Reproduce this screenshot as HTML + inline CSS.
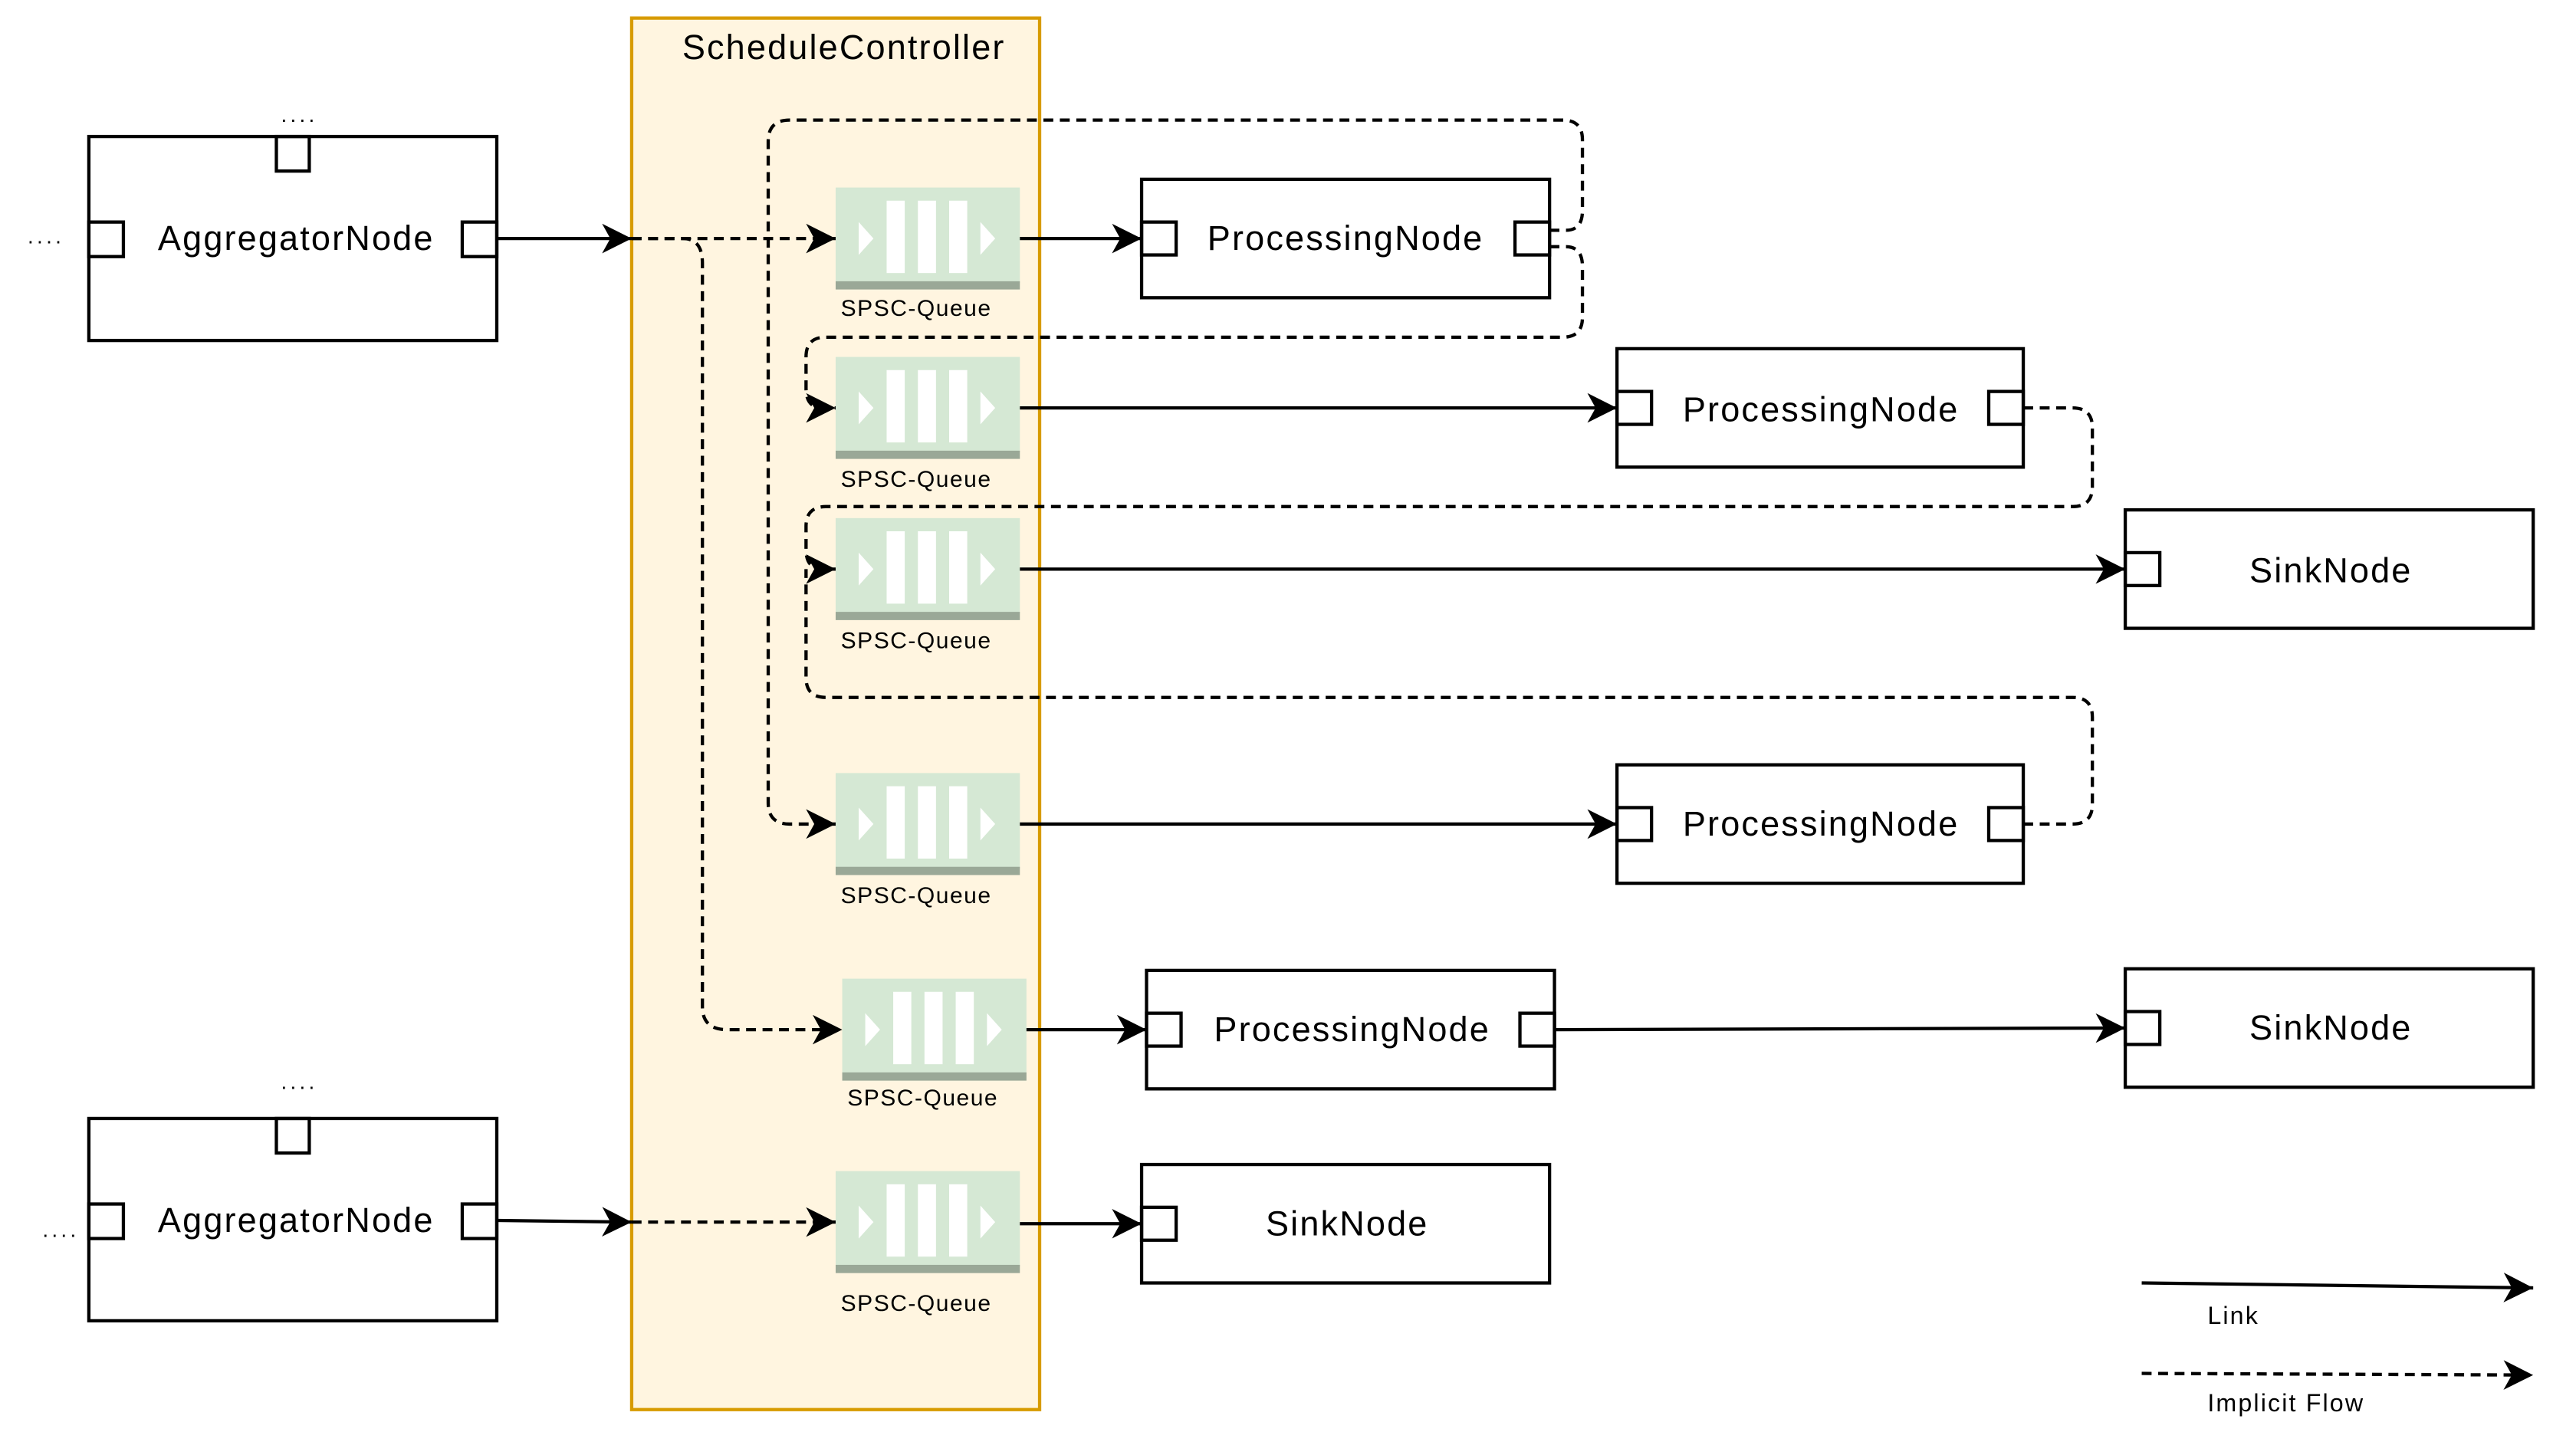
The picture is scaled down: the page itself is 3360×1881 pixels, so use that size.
<!DOCTYPE html>
<html><head><meta charset="utf-8"><style>
html,body{margin:0;padding:0;background:#fff;}
svg{display:block;}
text{font-family:"Liberation Sans",sans-serif;fill:#000;}
</style></head><body>
<svg width="3360" height="1881" viewBox="0 0 1566 876.7" xmlns="http://www.w3.org/2000/svg">
<defs>
<marker id="a" markerUnits="userSpaceOnUse" markerWidth="20" markerHeight="20" viewBox="0 0 20 20" refX="18" refY="10" orient="auto">
<path d="M0,1 L18,10 L0,19 L5,10 z" fill="#000"/>
</marker>
<g id="qb">
<rect x="508" y="114" width="112" height="58" fill="#d5e8d4"/>
<rect x="508" y="171" width="112" height="5" fill="#9aa897"/>
<rect x="539" y="122" width="11" height="44" fill="#fff"/>
<rect x="558" y="122" width="11" height="44" fill="#fff"/>
<rect x="577" y="122" width="11" height="44" fill="#fff"/>
<path d="M522,135 L531,145 L522,155 z M596,135 L605,145 L596,155 z" fill="#fff"/>
</g>
</defs>
<rect x="384" y="11" width="248" height="846" fill="#fff5e0" stroke="#d79b00" stroke-width="2"/>
<text x="513" y="36" font-size="21" letter-spacing="1" text-anchor="middle">ScheduleController</text>

<g fill="none" stroke="#000" stroke-width="2">
<rect x="54" y="83" width="248" height="124"/>
<rect x="168" y="83" width="20" height="21"/>
<rect x="54" y="135" width="21" height="21"/>
<rect x="281" y="135" width="21" height="21"/>
<rect x="54" y="680" width="248" height="123"/>
<rect x="168" y="680" width="20" height="21"/>
<rect x="54" y="732" width="21" height="21"/>
<rect x="281" y="732" width="21" height="21"/>

<rect x="694" y="109" width="248" height="72"/>
<rect x="694" y="135" width="21" height="20"/><rect x="921" y="135" width="21" height="20"/>
<rect x="983" y="212" width="247" height="72"/>
<rect x="983" y="238" width="21" height="20"/><rect x="1209" y="238" width="21" height="20"/>
<rect x="1292" y="310" width="248" height="72"/>
<rect x="1292" y="336" width="21" height="20"/>
<rect x="983" y="465" width="247" height="72"/>
<rect x="983" y="491" width="21" height="20"/><rect x="1209" y="491" width="21" height="20"/>
<rect x="697" y="590" width="248" height="72"/>
<rect x="697" y="616" width="21" height="20"/><rect x="924" y="616" width="21" height="20"/>
<rect x="1292" y="589" width="248" height="72"/>
<rect x="1292" y="615" width="21" height="20"/>
<rect x="694" y="708" width="248" height="72"/>
<rect x="694" y="734" width="21" height="20"/>
</g>

<g font-size="21" letter-spacing="1" text-anchor="middle">
<text x="180" y="152">AggregatorNode</text>
<text x="180" y="749">AggregatorNode</text>
<text x="818" y="152">ProcessingNode</text>
<text x="1107" y="256">ProcessingNode</text>
<text x="1417" y="354">SinkNode</text>
<text x="1107" y="508">ProcessingNode</text>
<text x="822" y="633">ProcessingNode</text>
<text x="1417" y="632">SinkNode</text>
<text x="819" y="751">SinkNode</text>
</g>
<g font-size="13" letter-spacing="2" text-anchor="middle">
<text x="182" y="74">....</text><text x="28" y="148">....</text>
<text x="182" y="662">....</text><text x="37" y="752">....</text>
</g>

<use href="#qb"/>
<use href="#qb" transform="translate(0,103)"/>
<use href="#qb" transform="translate(0,201)"/>
<use href="#qb" transform="translate(0,356)"/>
<use href="#qb" transform="translate(4,481)"/>
<use href="#qb" transform="translate(0,598)"/>
<g font-size="14" letter-spacing="0.7" text-anchor="middle">
<text x="557" y="192">SPSC-Queue</text>
<text x="557" y="296">SPSC-Queue</text>
<text x="557" y="394">SPSC-Queue</text>
<text x="557" y="549">SPSC-Queue</text>
<text x="561" y="672">SPSC-Queue</text>
<text x="557" y="797">SPSC-Queue</text>
</g>

<g fill="none" stroke="#000" stroke-width="2" marker-end="url(#a)">
<path d="M302,145 L384,145"/>
<path d="M620,145 L694,145"/>
<path d="M620,248 L983,248"/>
<path d="M620,346 L1292,346"/>
<path d="M620,501 L983,501"/>
<path d="M624,626 L697,626"/>
<path d="M945,626 L1292,625"/>
<path d="M302,742 L384,743"/>
<path d="M620,744 L694,744"/>
<path d="M1302,780 L1540,783"/>
</g>
<g fill="none" stroke="#000" stroke-width="2" stroke-dasharray="6,4">
<path d="M384,145 L508,145" marker-end="url(#a)"/>
<path d="M384,145 L415,145 Q427,145 427,160 L427,612 Q427,626 442,626 L512,626" marker-end="url(#a)"/>
<path d="M942,140 L952,140 Q962,140 962,128 L962,85 Q962,73 950,73 L480,73 Q467,73 467,86 L467,488 Q467,501 480,501 L508,501" marker-end="url(#a)"/>
<path d="M942,150 L952,150 Q962,150 962,162 L962,193 Q962,205 950,205 L502,205 Q490,205 490,217 L490,236 Q490,248 500,248 L508,248" marker-end="url(#a)"/>
<path d="M1230,248 L1260,248 Q1272,248 1272,260 L1272,296 Q1272,308 1260,308 L502,308 Q490,308 490,320 L490,334 Q490,346 500,346 L508,346" marker-end="url(#a)"/>
<path d="M1230,501 L1260,501 Q1272,501 1272,489 L1272,436 Q1272,424 1260,424 L502,424 Q490,424 490,412 L490,346"/>
<path d="M384,743 L508,743" marker-end="url(#a)"/>
<path d="M1302,835 L1540,836" marker-end="url(#a)"/>
</g>
<text x="1342" y="805" font-size="15" letter-spacing="1">Link</text>
<text x="1342" y="858" font-size="15" letter-spacing="1">Implicit Flow</text>
</svg>
</body></html>
